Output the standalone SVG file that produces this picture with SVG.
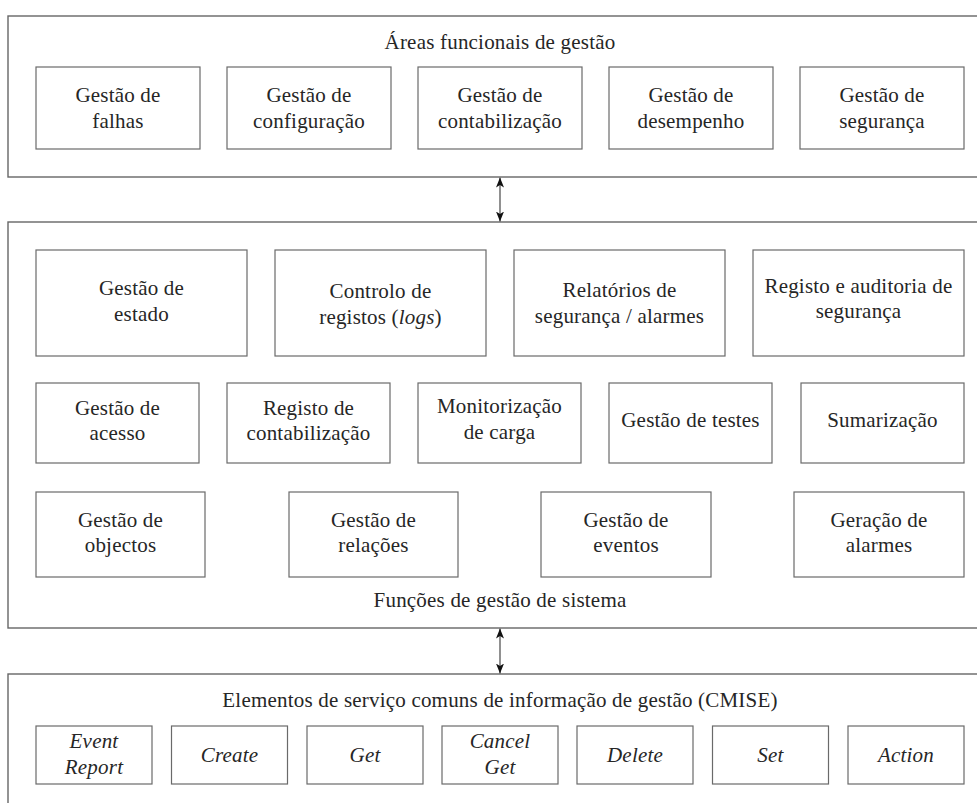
<svg xmlns="http://www.w3.org/2000/svg" width="977" height="803" viewBox="0 0 977 803">
  <defs>
    <marker id="arrowHead" viewBox="0 0 10 8" refX="10" refY="4" markerWidth="10" markerHeight="8" markerUnits="userSpaceOnUse" orient="auto-start-reverse">
      <path d="M0,0 L10,4 L0,8 L2.5,4 Z" fill="#111"/>
    </marker>
    <style>
      .frame { fill: #ffffff; stroke: #666666; stroke-width: 1.4; }
      .box { fill: #ffffff; stroke: #6a6a6a; stroke-width: 1.2; }
      .lbl { font-family: "Liberation Serif", "Times New Roman", serif; font-size: 21px; letter-spacing: 0.2px; fill: #262626; text-anchor: middle; }
      .it { font-style: italic; }
      .conn { stroke: #555555; stroke-width: 1.3; fill: none; }
    </style>
  </defs>
  <rect width="977" height="803" fill="#ffffff"/>

  <!-- Top layer: functional management areas -->
  <g id="areas">
    <rect class="frame" x="8" y="16" width="990" height="161"/>
    <text class="lbl" x="500" y="49">Áreas funcionais de gestão</text>
    <g id="gestao-falhas">
      <rect class="box" x="36" y="67" width="164" height="82"/>
      <text class="lbl" x="118" y="102">Gestão de</text>
      <text class="lbl" x="118" y="128">falhas</text>
    </g>
    <g id="gestao-configuracao">
      <rect class="box" x="227" y="67" width="164" height="82"/>
      <text class="lbl" x="309" y="102">Gestão de</text>
      <text class="lbl" x="309" y="128">configuração</text>
    </g>
    <g id="gestao-contabilizacao">
      <rect class="box" x="418" y="67" width="164" height="82"/>
      <text class="lbl" x="500" y="102">Gestão de</text>
      <text class="lbl" x="500" y="128">contabilização</text>
    </g>
    <g id="gestao-desempenho">
      <rect class="box" x="609" y="67" width="164" height="82"/>
      <text class="lbl" x="691" y="102">Gestão de</text>
      <text class="lbl" x="691" y="128">desempenho</text>
    </g>
    <g id="gestao-seguranca">
      <rect class="box" x="800" y="67" width="164" height="82"/>
      <text class="lbl" x="882" y="102">Gestão de</text>
      <text class="lbl" x="882" y="128">segurança</text>
    </g>
  </g>

  <!-- Middle layer: system management functions -->
  <g id="funcoes">
    <rect class="frame" x="8" y="222" width="990" height="406"/>
    <text class="lbl" x="500" y="607">Funções de gestão de sistema</text>

    <g id="gestao-estado">
      <rect class="box" x="36" y="250" width="211" height="106"/>
      <text class="lbl" x="141.5" y="295">Gestão de</text>
      <text class="lbl" x="141.5" y="321">estado</text>
    </g>
    <g id="controlo-registos">
      <rect class="box" x="275" y="250" width="211" height="106"/>
      <text class="lbl" x="380.5" y="298">Controlo de</text>
      <text class="lbl" x="380.5" y="324">registos (<tspan class="it">logs</tspan>)</text>
    </g>
    <g id="relatorios-seguranca">
      <rect class="box" x="514" y="250" width="211" height="106"/>
      <text class="lbl" x="619.5" y="297">Relatórios de</text>
      <text class="lbl" x="619.5" y="323">segurança / alarmes</text>
    </g>
    <g id="registo-auditoria">
      <rect class="box" x="753" y="250" width="211" height="106"/>
      <text class="lbl" x="858.5" y="293">Registo e auditoria de</text>
      <text class="lbl" x="858.5" y="318">segurança</text>
    </g>

    <g id="gestao-acesso">
      <rect class="box" x="36" y="383" width="163" height="80"/>
      <text class="lbl" x="117.5" y="415">Gestão de</text>
      <text class="lbl" x="117.5" y="440">acesso</text>
    </g>
    <g id="registo-contabilizacao">
      <rect class="box" x="227" y="383" width="163" height="80"/>
      <text class="lbl" x="308.5" y="415">Registo de</text>
      <text class="lbl" x="308.5" y="440">contabilização</text>
    </g>
    <g id="monitorizacao-carga">
      <rect class="box" x="418" y="383" width="163" height="80"/>
      <text class="lbl" x="499.5" y="413">Monitorização</text>
      <text class="lbl" x="499.5" y="439">de carga</text>
    </g>
    <g id="gestao-testes">
      <rect class="box" x="609" y="383" width="163" height="80"/>
      <text class="lbl" x="690.5" y="427">Gestão de testes</text>
    </g>
    <g id="sumarizacao">
      <rect class="box" x="801" y="383" width="163" height="80"/>
      <text class="lbl" x="882.5" y="427">Sumarização</text>
    </g>

    <g id="gestao-objectos">
      <rect class="box" x="36" y="492" width="169" height="85"/>
      <text class="lbl" x="120.5" y="527">Gestão de</text>
      <text class="lbl" x="120.5" y="552">objectos</text>
    </g>
    <g id="gestao-relacoes">
      <rect class="box" x="289" y="492" width="169" height="85"/>
      <text class="lbl" x="373.5" y="527">Gestão de</text>
      <text class="lbl" x="373.5" y="552">relações</text>
    </g>
    <g id="gestao-eventos">
      <rect class="box" x="541" y="492" width="170" height="85"/>
      <text class="lbl" x="626" y="527">Gestão de</text>
      <text class="lbl" x="626" y="552">eventos</text>
    </g>
    <g id="geracao-alarmes">
      <rect class="box" x="794" y="492" width="170" height="85"/>
      <text class="lbl" x="879" y="527">Geração de</text>
      <text class="lbl" x="879" y="552">alarmes</text>
    </g>
  </g>

  <!-- Bottom layer: CMISE service elements -->
  <g id="cmise">
    <rect class="frame" x="8" y="674" width="990" height="140"/>
    <text class="lbl" x="500" y="707">Elementos de serviço comuns de informação de gestão (CMISE)</text>
    <g id="event-report">
      <rect class="box" x="36" y="726" width="116" height="58"/>
      <text class="lbl it" x="94" y="748">Event</text>
      <text class="lbl it" x="94" y="774">Report</text>
    </g>
    <g id="create">
      <rect class="box" x="171.5" y="726" width="116" height="58"/>
      <text class="lbl it" x="229.5" y="762">Create</text>
    </g>
    <g id="get">
      <rect class="box" x="307" y="726" width="116" height="58"/>
      <text class="lbl it" x="365" y="762">Get</text>
    </g>
    <g id="cancel-get">
      <rect class="box" x="442" y="726" width="116" height="58"/>
      <text class="lbl it" x="500" y="748">Cancel</text>
      <text class="lbl it" x="500" y="774">Get</text>
    </g>
    <g id="delete">
      <rect class="box" x="577" y="726" width="116" height="58"/>
      <text class="lbl it" x="635" y="762">Delete</text>
    </g>
    <g id="set">
      <rect class="box" x="712.5" y="726" width="116" height="58"/>
      <text class="lbl it" x="770.5" y="762">Set</text>
    </g>
    <g id="action">
      <rect class="box" x="848" y="726" width="116" height="58"/>
      <text class="lbl it" x="906" y="762">Action</text>
    </g>
  </g>

  <!-- Two-way links between the layers -->
  <g id="connectors">
    <line class="conn" x1="500" y1="177.5" x2="500" y2="221.5" marker-start="url(#arrowHead)" marker-end="url(#arrowHead)"/>
    <line class="conn" x1="500" y1="628.5" x2="500" y2="673.5" marker-start="url(#arrowHead)" marker-end="url(#arrowHead)"/>
  </g>
</svg>
